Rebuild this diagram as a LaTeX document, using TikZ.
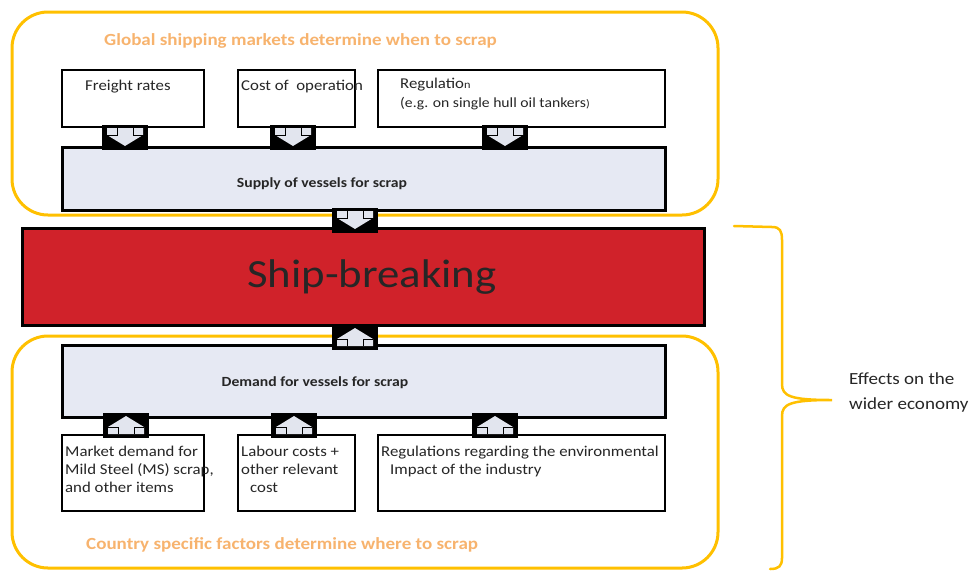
\documentclass[tikz,border=0pt]{standalone}
\usepackage{fontspec}
\setmainfont{Carlito}[FakeStretch=1.12]
\usetikzlibrary{positioning,calc}

\definecolor{orangeline}{HTML}{FFC000}
\definecolor{titlecol}{HTML}{F7B36E}
\definecolor{shipred}{HTML}{D0222A}
\definecolor{panelfill}{HTML}{E6E9F3}
\definecolor{arrowfill}{HTML}{E2E5EE}
\definecolor{textdark}{HTML}{262626}

\tikzset{
    frame/.style={draw=orangeline, line width=3pt, rounded corners=36pt},
    factor/.style={rectangle, draw, line width=1.3pt, fill=white, inner sep=0pt},
    panel/.style={rectangle, draw, line width=3pt, fill=panelfill, inner sep=0pt},
    txt/.style={inner sep=0pt, align=left, text=textdark, font=\fontsize{15}{18}\selectfont},
    paneltxt/.style={inner sep=0pt, text=textdark, font=\fontsize{14}{17}\selectfont\bfseries},
    heading/.style={inner sep=0pt, text=titlecol, font=\fontsize{17}{20}\selectfont\bfseries},
    % #1 = 1 points down, -1 points up
    blockarrow/.style={rectangle, fill=black, minimum width=46pt, minimum height=25pt, inner sep=0pt,
        path picture={
            \begin{scope}[shift={(path picture bounding box.center)}]
                \fill[arrowfill] (-18,{-9*(#1)}) -- (18,{-9*(#1)}) -- (18,{-2*(#1)}) -- (0,{9*(#1)})
                    -- (-18,{-2*(#1)}) -- cycle;
                \draw[line width=0.8pt] (-8,{-9*(#1)}) -- (-8,{-2*(#1)}) -- (-18,{-2*(#1)})
                    (8,{-9*(#1)}) -- (8,{-2*(#1)}) -- (18,{-2*(#1)});
            \end{scope}
        }}
}

\begin{document}
\begin{tikzpicture}[x=1pt, y=-1pt]
    \useasboundingbox (0,0) rectangle (971,571);

    % Orange frames with their headings
    \draw[frame] (12,12) rectangle (718,215);
    \draw[frame] (12,336) rectangle (718,568);
    \node[heading, anchor=west] (globaltitle) at (104,41) {Global shipping markets determine when to scrap};
    \node[heading, anchor=west] (countrytitle) at (86,545) {Country specific factors determine where to scrap};

    % Global factors
    \node[factor, minimum width=142pt, minimum height=57pt] (freight) at (133,98.5) {};
    \node[factor, minimum width=117pt, minimum height=57pt] (operation) at (296.5,98.5) {};
    \node[factor, minimum width=287pt, minimum height=57pt] (regulation) at (521.5,98.5) {};
    \node[txt, anchor=west] (freighttxt) at (85,87) {Freight rates};
    \node[txt, anchor=west] (operationtxt) at (241,87) {Cost of\ \ operation};
    \node[txt, anchor=north west] (regulationtxt) at (400,78) {Regulatio{\fontsize{11}{12}\selectfont n}\\[1pt]
        {\fontsize{14}{16}\selectfont(e.g. on single hull oil tankers{\fontsize{11}{12}\selectfont)}}};

    % Supply panel
    \node[panel, minimum width=603pt, minimum height=63pt] (supply) at (363.5,178.5) {};
    \node[paneltxt] (supplytxt) at (322,184) {Supply of vessels for scrap};

    % Ship-breaking
    \node[rectangle, draw, line width=3pt, fill=shipred, minimum width=682pt, minimum height=97pt] (ship) at (363,276.5) {};
    \node[inner sep=0pt, text=textdark, font=\fontsize{40}{44}\selectfont] (shiptxt) at (372,277) {Ship-breaking};

    % Demand panel
    \node[panel, minimum width=603pt, minimum height=72pt] (demand) at (363.5,381) {};
    \node[paneltxt] (demandtxt) at (315,383) {Demand for vessels for scrap};

    % Country specific factors
    \node[factor, minimum width=142pt, minimum height=76pt] (market) at (133,473) {};
    \node[factor, minimum width=117pt, minimum height=76pt] (labour) at (296.5,473) {};
    \node[factor, minimum width=287pt, minimum height=76pt] (environment) at (521.5,473) {};
    \node[txt, anchor=north west] (markettxt) at (65,446) {Market demand for\\Mild Steel (MS) scrap,\\and other items};
    \node[txt, anchor=north west] (labourtxt) at (241,446) {Labour costs +\\other relevant\\\hspace*{9pt}cost};
    \node[txt, anchor=north west] (environmenttxt) at (381,446) {Regulations regarding the environmental\\\hspace*{9pt}Impact of the industry};

    % Block arrows between the boxes
    \node[blockarrow=1] (freightarrow) at (125,137) {};
    \node[blockarrow=1] (operationarrow) at (293,137) {};
    \node[blockarrow=1] (regulationarrow) at (505,137) {};
    \node[blockarrow=1] (supplyarrow) at (355,220) {};
    \node[blockarrow=-1] (demandarrow) at (355,337) {};
    \node[blockarrow=-1] (marketarrow) at (126,425) {};
    \node[blockarrow=-1] (labourarrow) at (294,425) {};
    \node[blockarrow=-1] (environmentarrow) at (495,425) {};

    % Brace towards the wider economy
    \coordinate (bracetip) at (832,400);
    \draw[orangeline, line width=2.5pt, line cap=round]
        (734,226) -- (772,227) .. controls (780,227) and (782,231) .. (782,240)
        -- (782,384) .. controls (782,396) and (790,400) .. (bracetip)
        .. controls (790,400) and (782,404) .. (782,416)
        -- (782,558) .. controls (782,566) and (779,569) .. (770,569);
    \node[txt, anchor=west, font=\fontsize{17}{25}\selectfont] (effects) at (849,392) {Effects on the\\wider economy};
\end{tikzpicture}
\end{document}
